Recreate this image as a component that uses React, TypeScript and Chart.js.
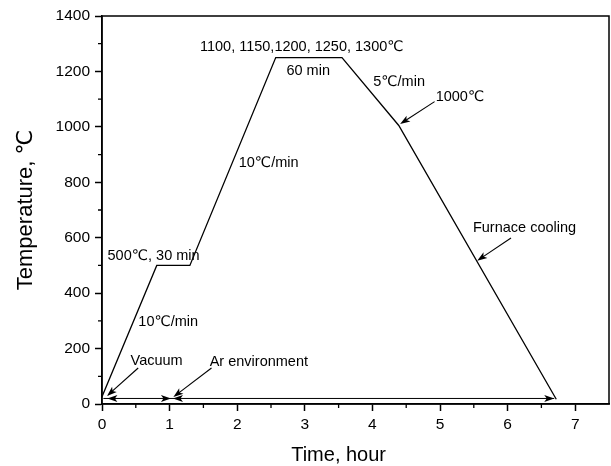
import React, { useEffect, useRef } from 'react';
import { Chart, registerables } from 'chart.js';

Chart.register(...registerables);

// Heat-treatment profile (time in hours, temperature in °C)
const timeHours = [0, 0.81, 1.3, 2.57, 3.55, 4.39, 6.72];
const temperatures = [26, 500, 500, 1250, 1250, 1005, 17];

// Axis ticks
const xTicks = [0, 1, 2, 3, 4, 5, 6, 7];
const yTicks = [0, 200, 400, 600, 800, 1000, 1200, 1400];
const xMinorTicks = [0.5, 1.5, 2.5, 3.5, 4.5, 5.5, 6.5];
const yMinorTicks = [100, 300, 500, 700, 900, 1100, 1300];

// Axis titles
const xTitle = 'Time, hour';
const xTitleCenter = 3.5;
const yTitle = 'Temperature, ℃';

// Text annotations (data coordinates)
const noteTexts = [
  '1100, 1150,1200, 1250, 1300℃',
  '60 min',
  '5℃/min',
  '1000℃',
  '10℃/min',
  '500℃, 30 min',
  '10℃/min',
  'Vacuum',
  'Ar environment',
  'Furnace cooling',
];
const noteX = [2.955, 3.05, 4.395, 5.295, 2.465, 0.763, 0.98, 0.808, 2.32, 6.25];
const noteY = [1289, 1202, 1163, 1109, 871, 534, 297, 156, 153, 634];

// Pointer arrows (data coordinates): from -> tip
const pointerFromX = [0.535, 1.62, 4.92, 6.05];
const pointerFromY = [130, 130, 1091, 599];
const pointerToX = [0.074, 1.056, 4.41, 5.55];
const pointerToY = [29, 25, 1010, 517];

// Atmosphere span line with arrowheads
const spanLevel = 20;
const spanStart = 0.02;
const spanEnd = 6.69;
const spanHeadX = [0.08, 1.02, 1.05, 6.69];
const spanHeadDir = [-1, 1, -1, 1];

const FONT = '"Liberation Sans", Arial, "DejaVu Sans", sans-serif';

function drawHead(ctx: CanvasRenderingContext2D, tx: number, ty: number, angle: number) {
  const len = 10;
  const half = 3.5;
  ctx.save();
  ctx.translate(tx, ty);
  ctx.rotate(angle);
  ctx.beginPath();
  ctx.moveTo(0, 0);
  ctx.lineTo(-len, -half);
  ctx.lineTo(-len * 0.75, 0);
  ctx.lineTo(-len, half);
  ctx.closePath();
  ctx.fill();
  ctx.restore();
}

const decorations = {
  id: 'decorations',
  afterDraw(chart: any) {
    const { ctx, chartArea, scales } = chart;
    const xs = scales.x;
    const ys = scales.y;
    ctx.save();
    ctx.strokeStyle = '#000';
    ctx.fillStyle = '#000';

    // frame
    ctx.lineWidth = 1.5;
    ctx.strokeRect(chartArea.left, chartArea.top, chartArea.right - chartArea.left, chartArea.bottom - chartArea.top);

    // minor ticks
    ctx.lineWidth = 1.3;
    ctx.beginPath();
    for (const v of xMinorTicks) {
      const px = xs.getPixelForValue(v);
      ctx.moveTo(px, chartArea.bottom);
      ctx.lineTo(px, chartArea.bottom + 4);
    }
    for (const v of yMinorTicks) {
      const py = ys.getPixelForValue(v);
      ctx.moveTo(chartArea.left - 4, py);
      ctx.lineTo(chartArea.left, py);
    }
    ctx.stroke();

    // span line
    ctx.lineWidth = 1;
    const sy = ys.getPixelForValue(spanLevel);
    ctx.beginPath();
    ctx.moveTo(xs.getPixelForValue(spanStart), sy);
    ctx.lineTo(xs.getPixelForValue(spanEnd), sy);
    ctx.stroke();
    spanHeadX.forEach((v, i) => {
      drawHead(ctx, xs.getPixelForValue(v), sy, spanHeadDir[i] > 0 ? 0 : Math.PI);
    });

    // pointer arrows
    ctx.lineWidth = 1.1;
    pointerFromX.forEach((fx, i) => {
      const x1 = xs.getPixelForValue(fx);
      const y1 = ys.getPixelForValue(pointerFromY[i]);
      const x2 = xs.getPixelForValue(pointerToX[i]);
      const y2 = ys.getPixelForValue(pointerToY[i]);
      const ang = Math.atan2(y2 - y1, x2 - x1);
      ctx.beginPath();
      ctx.moveTo(x1, y1);
      ctx.lineTo(x2 - Math.cos(ang) * 6, y2 - Math.sin(ang) * 6);
      ctx.stroke();
      drawHead(ctx, x2, y2, ang);
    });

    // texts
    ctx.font = `14.5px ${FONT}`;
    ctx.textAlign = 'center';
    ctx.textBaseline = 'middle';
    noteTexts.forEach((t, i) => {
      ctx.fillText(t, xs.getPixelForValue(noteX[i]), ys.getPixelForValue(noteY[i]));
    });

    // x axis title, centred on the labelled range
    ctx.font = `20px ${FONT}`;
    ctx.textBaseline = 'alphabetic';
    ctx.fillText(xTitle, xs.getPixelForValue(xTitleCenter), chartArea.bottom + 57);
    ctx.restore();
  },
};

export default function App() {
  const ref = useRef<HTMLCanvasElement | null>(null);

  useEffect(() => {
    if (!ref.current) return;
    const chart = new Chart(ref.current, {
      type: 'line',
      data: {
        datasets: [
          {
            data: timeHours.map((t, i) => ({ x: t, y: temperatures[i] })),
            borderColor: '#000',
            borderWidth: 1.3,
            pointRadius: 0,
            tension: 0,
            fill: false,
          },
        ],
      },
      options: {
        responsive: false,
        animation: false,
        events: [],
        layout: { padding: { top: 16, right: 2, left: 0, bottom: 0 } },
        plugins: { legend: { display: false }, tooltip: { enabled: false } },
        scales: {
          x: {
            type: 'linear',
            min: 0,
            max: 7.5,
            afterBuildTicks: (s: any) => {
              s.ticks = xTicks.map((v) => ({ value: v }));
            },
            afterFit: (s: any) => {
              s.height = 62;
            },
            ticks: {
              color: '#000',
              font: { family: FONT, size: 15.5 },
              padding: 4,
              maxRotation: 0,
              autoSkip: false,
              includeBounds: false,
              callback: (v: any) => String(v),
            },
            grid: {
              display: true,
              drawOnChartArea: false,
              drawTicks: true,
              tickLength: 7,
              tickColor: '#000',
              tickWidth: 1.5,
            },
            border: { display: true, color: '#000', width: 1.5 },
            title: { display: false },
          },
          y: {
            type: 'linear',
            min: 0,
            max: 1400,
            afterBuildTicks: (s: any) => {
              s.ticks = yTicks.map((v) => ({ value: v }));
            },
            afterFit: (s: any) => {
              s.width = 102;
            },
            ticks: {
              color: '#000',
              font: { family: FONT, size: 15.5 },
              padding: 5,
              autoSkip: false,
              includeBounds: false,
              callback: (v: any) => String(v),
            },
            grid: {
              display: true,
              drawOnChartArea: false,
              drawTicks: true,
              tickLength: 7,
              tickColor: '#000',
              tickWidth: 1.5,
            },
            border: { display: true, color: '#000', width: 1.5 },
            title: {
              display: true,
              text: yTitle,
              color: '#000',
              font: { family: FONT, size: 22 },
              padding: { top: 13, bottom: 0 },
            },
          },
        },
      },
      plugins: [decorations],
    });
    return () => chart.destroy();
  }, []);

  return (
    <div style={{ position: 'fixed', left: 0, top: 0, width: 611, height: 466, background: '#fff' }}>
      <canvas ref={ref} width={611} height={466} style={{ display: 'block' }} />
    </div>
  );
}
